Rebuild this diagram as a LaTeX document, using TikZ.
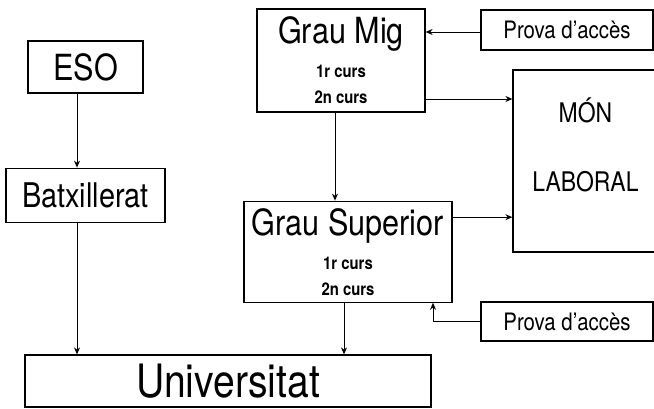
\documentclass[tikz,border=0pt]{standalone}
\usepackage{fontspec}
\setmainfont{TeX Gyre Heros}[FakeStretch=0.85]
\usetikzlibrary{arrows.meta, positioning}
\newcommand{\titlefont}{\fontsize{36}{40}\selectfont\mdseries}
\newcommand{\cursfont}{\fontsize{17.5}{25}\selectfont\bfseries}

\begin{document}
\begin{tikzpicture}[
    x=1pt, y=-1pt,
    box/.style={rectangle, draw, line width=1.2pt, inner sep=0pt, align=center},
    arrow/.style={-{Stealth[length=7pt, width=6pt]}, line width=0.9pt}
]
\useasboundingbox (0,0) rectangle (654,409);
\clip (0,0) rectangle (654,409);

% Columna esquerra
\node[box, minimum width=115pt, minimum height=52pt, font=\titlefont] (eso) at (85.5,67) {ESO};
\node[box, minimum width=159pt, minimum height=54pt, font=\fontsize{34}{38}\selectfont, below=74pt of eso] (batx) {Batxillerat};

% Cicles formatius
\node[box, minimum width=168pt, minimum height=103pt, font=\cursfont] (mig) at (341,60.5) {\titlefont Grau Mig\\[9pt]\cursfont 1r curs\\[1pt]\cursfont 2n curs};
\node[box, minimum width=208pt, minimum height=101pt, font=\cursfont, below=88pt of mig, xshift=7pt] (sup) {\titlefont Grau Superior\\[9pt]\cursfont 1r curs\\[1pt]\cursfont 2n curs};

% Proves i mon laboral
\node[box, minimum width=172pt, minimum height=40pt, font=\fontsize{24}{28}\selectfont] (prova1) at (567,30) {Prova d’accès};
\node[box, minimum width=172pt, minimum height=39pt, font=\fontsize{24}{28}\selectfont] (prova2) at (567,321.5) {Prova d’accès};
\node[box, minimum width=145pt, text height=122pt, text depth=60pt, font=\fontsize{27}{32}\selectfont] (mon) at (585.5,161) {MÓN\\[38pt]LABORAL};

% Universitat
\node[box, minimum width=406pt, minimum height=52pt, font=\fontsize{46}{50}\selectfont] (univ) at (228,381) {Universitat};

% Fletxes
\draw[arrow] ([xshift=-8.5pt]eso.south) -- ([xshift=-8.5pt]eso.south |- batx.north);
\draw[arrow] ([xshift=-8.5pt]batx.south) -- ([xshift=-8.5pt]batx.south |- univ.north);
\draw[arrow] ([yshift=-2pt]prova1.west) -- ([yshift=-2pt]prova1.west -| mig.east);
\draw[arrow] ([yshift=-38.5pt]mig.east) -- ([yshift=-38.5pt]mig.east -| mon.west);
\draw[arrow] ([xshift=-6pt]mig.south) -- ([xshift=-6pt]mig.south |- sup.north);
\draw[arrow] ([yshift=34.5pt]sup.east) -- ([yshift=34.5pt]sup.east -| mon.west);
\draw[arrow] (prova2.west) -| ([xshift=85pt]sup.south);
\draw[arrow] ([xshift=-4pt]sup.south) -- ([xshift=-4pt]sup.south |- univ.north);
\end{tikzpicture}
\end{document}
